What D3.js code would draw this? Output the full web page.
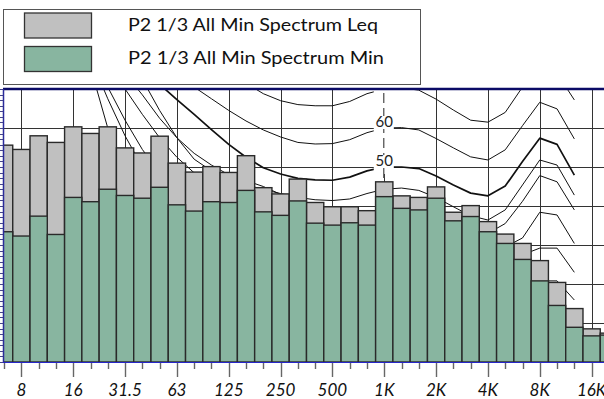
<!DOCTYPE html>
<html><head><meta charset="utf-8">
<script src="https://cdn.jsdelivr.net/npm/d3@7"></script>
<style>body{margin:0;background:#fff}svg{display:block}</style>
</head><body>
<svg id="chart" width="604" height="399"></svg>
<script>
// ---- data ----
const bands = ["6.3","8","10","12.5","16","20","25","31.5","40","50","63","80","100","125","160","200","250","315","400","500","630","800","1K","1.25K","1.6K","2K","2.5K","3.15K","4K","5K","6.3K","8K","10K","12.5K","16K","20K"];
const leqValues = [55.6,54.5,58.0,56.3,60.3,58.6,60.3,54.9,53.6,57.9,51.0,48.7,50.1,48.6,52.9,44.7,43.1,46.9,40.9,39.8,39.8,38.8,46.2,42.6,42.2,44.9,38.4,40.1,36.0,32.8,30.4,26.0,20.4,13.7,8.5,7.4];
const minValues = [33.4,32.3,37.4,32.7,42.2,41.1,44.3,42.7,42.0,44.8,40.3,38.7,41.1,40.9,44.0,38.5,37.6,41.3,35.6,35.1,35.7,35.1,42.4,39.4,39.0,42.0,36.2,37.3,33.4,30.4,26.3,20.8,14.5,8.9,6.7,6.9];
const tickLabels = ["8","16","31.5","63","125","250","500","1K","2K","4K","8K","16K"];
const seriesNames = ["P2 1/3 All Min Spectrum Leq","P2 1/3 All Min Spectrum Min"];
const curveLabels = [{text:"60", value:60},{text:"50", value:50}];
// reference contours: first band index + levels (dB) per 1/3 octave band
const contour1Start = 12, contour1 = [78,75,71.5,68.8,67,66,65.7,65.7,66.8,68.8,70,70.3,69.7,67.4,64.6,62,61.5,64,70.5,76.5,74,67.2];
const contour2Start = 8,  contour2 = [79,76.5,73.5,70.5,67.5,64.5,61.8,59.5,57.7,56.3,55.9,56.0,57,58.8,60,60.1,59.5,57.3,54.9,52.6,51.8,54.4,60.6,66.6,64.9,57.2];
const contour3Start = 4,  contour3 = [90,86,82,78.5,75,71.2,67.3,63.5,59.6,55.8,52.5,49.8,48.2,47.1,46.7,46.6,47.4,49,50,50,49.6,47.7,45.4,43.3,42.6,45.1,51.4,57.4,55.8,47.9];
const contour4Start = 6,  contour4 = [85,78,72.5,64.5,57.5,52,49,47,45.5,44.2,43.2,42.2,41.6,41.4,41.8,43.2,44.3,44.6,44,42.2,39.8,37.5,36.4,39,45.4,51.8,50.5,42.8];
const contour5Start = 6,  contour5 = [82,74,68.5,62.5,57.5,53.5,50.5,48,46.5,45,43,41,39.3,38.3,38,38.5,39.3,39.5,39,37.8,36,34,33,35.5,41.2,47.8,46.2,39];
const contour6Start = 5,  contour6 = [83,76.5,70,63.5,57.5,52.5,48.5,45,42.5,40.5,39,37.5,36.3,35.5,35,35,35.3,35.8,36,35.5,34.3,32.5,30.5,29,29.5,31.8,38.4,37.7,30.4];
const contour7Start = 5,  contour7 = [77,70.5,62,54.5,48.5,43.5,39.5,36.5,34,32,30.5,29.3,28.3,27.5,27,26.8,27,27.5,27.8,27.5,26.5,25,23.5,22.5,23.5,27.5,29.2,29.2,23];
const contour8Start = 4,  contour8 = [90,78,67.5,58,50,43.5,38,33.5,30,27,24.8,23,21.5,20.3,19.5,19,18.8,19,19.3,19.5,19.3,18.5,17.3,16,15.2,16,18.5,20.8,20.8,15.9];
const contour9Start = 4,  contour9 = [88,75.5,60,50,42,35.5,30,25.5,22,19,16.5,14.5,13,12,11.2,10.8,10.7,10.8,11,11.2,11,10.3,9.2,8,7.3,8,10,12,12,8];

const contours = [
  {start:contour1Start, values:contour1, w:1},
  {start:contour2Start, values:contour2, w:1},
  {start:contour3Start, values:contour3, w:1.7},
  {start:contour4Start, values:contour4, w:1},
  {start:contour5Start, values:contour5, w:1},
  {start:contour6Start, values:contour6, w:1},
  {start:contour7Start, values:contour7, w:1},
  {start:contour8Start, values:contour8, w:1},
  {start:contour9Start, values:contour9, w:1}
];

// ---- layout ----
const plot = {l:3, t:89, r:604, b:362};
const bw = 17.28;
const x = d3.scaleBand().domain(bands).range([4.1 - bw/2, 4.1 - bw/2 + bands.length*bw]).padding(0);
const cx = b => x(b) + x.bandwidth()/2;
const y = d3.scaleLinear().domain([0,70]).range([plot.b, plot.t]);

const svg = d3.select("#chart");
const defs = svg.append("defs");
defs.append("clipPath").attr("id","plotclip").append("rect")
  .attr("x",plot.l).attr("y",plot.t).attr("width",plot.r-plot.l).attr("height",plot.b-plot.t);

// legend
const lg = svg.append("g");
lg.append("rect").attr("x",3.5).attr("y",9.5).attr("width",417).attr("height",75)
  .attr("fill","#fff").attr("stroke","#555").attr("stroke-width",1);
const legColors = ["#c0c0c0","#88b5a0"];
seriesNames.forEach((n,i)=>{
  lg.append("rect").attr("x",24.5).attr("y",13 + i*33.5).attr("width",67).attr("height",25)
    .attr("fill",legColors[i]).attr("stroke","#333").attr("stroke-width",1.3);
  lg.append("text").attr("x",128).attr("y",31 + i*33).text(n)
    .attr("font-family","Lato, 'Open Sans', sans-serif").attr("font-size",18)
    .attr("textLength", i===0 ? 250 : 256).attr("lengthAdjust","spacingAndGlyphs").attr("fill","#111");
});

const g = svg.append("g").attr("clip-path","url(#plotclip)");

// grid
g.selectAll(".vg").data(tickLabels).join("line")
  .attr("x1",d=>Math.round(cx(d))+0.5).attr("x2",d=>Math.round(cx(d))+0.5)
  .attr("y1",plot.t).attr("y2",plot.b).attr("stroke","#333").attr("stroke-width",1);
g.selectAll(".hg").data(d3.range(10,70,10)).join("line")
  .attr("x1",plot.l).attr("x2",plot.r)
  .attr("y1",d=>Math.round(y(d))+0.5).attr("y2",d=>Math.round(y(d))+0.5)
  .attr("stroke","#333").attr("stroke-width",1);

// contours
const line = d3.line().x(d=>cx(bands[d.i])).y(d=>y(d.v));
contours.forEach(c=>{
  const pts = c.values.map((v,k)=>({i:c.start+k, v}));
  g.append("path").attr("d",line(pts)).attr("fill","none")
    .attr("stroke","#111").attr("stroke-width",c.w).attr("stroke-linejoin","round");
});

// label box around 1K
const lx = cx("1K");
g.append("rect").attr("x",lx-10.5).attr("y",plot.t+1).attr("width",20).attr("height",y(50)-plot.t+6).attr("fill","#fff");
g.append("line").attr("x1",lx-0.5).attr("x2",lx-0.5).attr("y1",plot.t+4).attr("y2",y(44))
  .attr("stroke","#555").attr("stroke-width",1.3).attr("stroke-dasharray","10,5");
curveLabels.forEach(l=>{
  g.append("rect").attr("x",lx-9).attr("y",y(l.value)-12).attr("width",18).attr("height",13).attr("fill","#fff");
  g.append("text").attr("x",lx).attr("y",y(l.value)-1).attr("text-anchor","middle")
    .attr("font-family","Lato, 'Open Sans', sans-serif").attr("font-size",15).attr("fill","#222").text(l.text);
});

// bars
const bars = bands.map((b,i)=>({b, leq:leqValues[i], min:minValues[i]}));
g.selectAll(".leq").data(bars).join("rect")
  .attr("x",d=>x(d.b)).attr("width",x.bandwidth()).attr("y",d=>y(d.leq)).attr("height",d=>plot.b-y(d.leq))
  .attr("fill","#c0c0c0").attr("stroke","#2a2a2a").attr("stroke-width",1.4);
g.selectAll(".min").data(bars).join("rect")
  .attr("x",d=>x(d.b)).attr("width",x.bandwidth()).attr("y",d=>y(d.min)).attr("height",d=>plot.b-y(d.min))
  .attr("fill","#88b5a0").attr("stroke","#2a2a2a").attr("stroke-width",1.4);

// frame
svg.append("line").attr("x1",plot.l).attr("x2",plot.r).attr("y1",plot.t).attr("y2",plot.t)
  .attr("stroke","#0b0b66").attr("stroke-width",2.5);
svg.append("line").attr("x1",plot.l+0.5).attr("x2",plot.l+0.5).attr("y1",plot.t).attr("y2",plot.b)
  .attr("stroke","#2b2b9a").attr("stroke-width",1.5);
svg.selectAll(".yt").data(d3.range(0,70.01,10/7)).join("line")
  .attr("x1",0).attr("x2",plot.l).attr("y1",d=>Math.round(y(d))+0.5).attr("y2",d=>Math.round(y(d))+0.5)
  .attr("stroke","#44448a").attr("stroke-width",1);
svg.append("line").attr("x1",plot.l).attr("x2",plot.r).attr("y1",plot.b+0.5).attr("y2",plot.b+0.5)
  .attr("stroke","#2626c8").attr("stroke-width",1.2);

// x ticks
svg.selectAll(".mt").data(bands).join("line")
  .attr("x1",d=>Math.round(cx(d))+0.5).attr("x2",d=>Math.round(cx(d))+0.5)
  .attr("y1",plot.b+1).attr("y2",d=>tickLabels.includes(d)?plot.b+15:plot.b+7)
  .attr("stroke","#666").attr("stroke-width",1.4);
svg.selectAll(".tl").data(tickLabels).join("text")
  .attr("x",d=>cx(d)).attr("y",395.5).attr("text-anchor","middle")
  .attr("font-family","Lato, 'Open Sans', sans-serif").attr("font-style","italic").attr("font-size",17)
  .attr("fill","#111").text(d=>d);
</script>
</body></html>
